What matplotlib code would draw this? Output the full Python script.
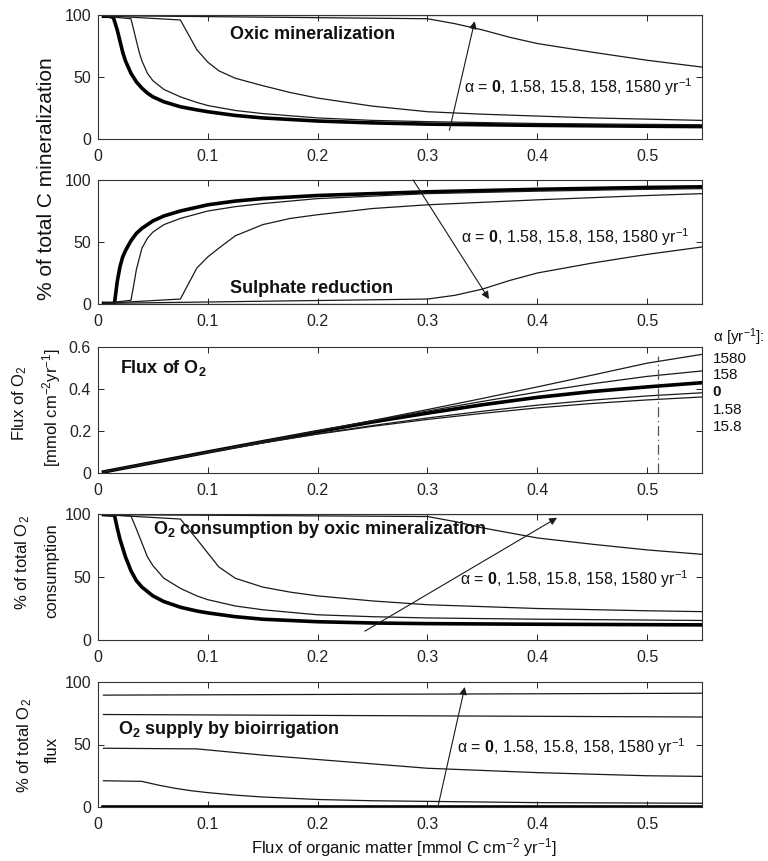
import matplotlib
matplotlib.use("Agg")
import matplotlib.pyplot as plt

plt.rcParams['font.family'] = ['Liberation Sans', 'DejaVu Sans']
plt.rcParams['mathtext.fontset'] = 'custom'
plt.rcParams['mathtext.rm'] = 'Liberation Sans'
plt.rcParams['mathtext.it'] = 'Liberation Sans:italic'
plt.rcParams['mathtext.bf'] = 'Liberation Sans:bold'

# bioirrigation coefficients, curve order used in every list below
alphas = ['0', '1.58', '15.8', '158', '1580']

# Oxic mineralization, % of total C mineralization
oxic_x = [[0.005, 0.01, 0.014, 0.0175, 0.02, 0.0225, 0.025, 0.03, 0.035, 0.04, 0.045, 0.05, 0.06,
           0.075, 0.09, 0.1, 0.125, 0.15, 0.2, 0.25, 0.3, 0.4, 0.5, 0.55],
          [0.005, 0.03, 0.0325, 0.035, 0.0375, 0.04, 0.045, 0.05, 0.06, 0.075, 0.09, 0.1, 0.125,
           0.15, 0.2, 0.25, 0.3, 0.4, 0.5, 0.55],
          [0.005, 0.075, 0.08, 0.09, 0.1, 0.11, 0.125, 0.15, 0.175, 0.2, 0.25, 0.3, 0.35, 0.4,
           0.45, 0.5, 0.55],
          [0.005, 0.3, 0.325, 0.35, 0.375, 0.4, 0.45, 0.5, 0.55],
          [0.005, 0.55]]
oxic_y = [[99, 99, 98, 88, 79, 70, 63, 53, 46, 41, 37, 34, 30, 26, 23.5, 22, 19, 17, 14.5, 13, 12,
           11, 10.3, 10],
          [99, 97, 88, 79, 70, 63, 53, 47, 40, 34, 29.5, 27, 23, 20.5, 17, 15, 14, 12.5, 11.8, 11.5],
          [99.5, 96, 88, 72, 62, 55, 49, 43, 37.5, 33, 26.5, 22, 20, 18.5, 17, 16, 15],
          [99.5, 97, 93, 88, 82, 77, 70, 63.5, 58],
          [99.7, 99.7]]

# Sulphate reduction, % of total C mineralization
sulf_x = [[0.005, 0.015, 0.0175, 0.02, 0.0225, 0.025, 0.03, 0.035, 0.04, 0.05, 0.06, 0.075, 0.1,
           0.125, 0.15, 0.2, 0.25, 0.3, 0.4, 0.5, 0.55],
          [0.005, 0.03, 0.0325, 0.035, 0.04, 0.045, 0.05, 0.06, 0.075, 0.1, 0.125, 0.15, 0.2, 0.25,
           0.3, 0.4, 0.5, 0.55],
          [0.005, 0.075, 0.09, 0.1, 0.11, 0.125, 0.15, 0.175, 0.2, 0.25, 0.3, 0.4, 0.5, 0.55],
          [0.005, 0.3, 0.325, 0.35, 0.375, 0.4, 0.45, 0.5, 0.55],
          [0.005, 0.55]]
sulf_y = [[0.5, 0.5, 18, 30, 38, 43, 51, 57, 61, 67, 71, 75, 80, 83, 85, 87.5, 89, 90.5, 92.5, 94,
           94.5],
          [0.5, 3, 15, 28, 45, 53, 58, 64, 69, 75, 78.5, 81, 85, 87, 89, 91, 92.5, 93],
          [0.5, 4, 29, 38, 45, 55, 64, 69, 72, 77, 80, 84, 87.5, 89],
          [0.5, 4, 7, 12, 19, 25, 33, 40, 46],
          [0.3, 0.3]]

# Flux of O2 [mmol cm-2 yr-1]
o2flux_x = [0.005, 0.05, 0.1, 0.15, 0.2, 0.25, 0.3, 0.35, 0.4, 0.45, 0.5, 0.55]
o2flux_y = [[0.005, 0.05, 0.1, 0.149, 0.197, 0.243, 0.285, 0.325, 0.36, 0.388, 0.41, 0.43],
            [0.005, 0.05, 0.098, 0.144, 0.187, 0.226, 0.262, 0.294, 0.323, 0.347, 0.367, 0.382],
            [0.005, 0.05, 0.098, 0.143, 0.185, 0.222, 0.255, 0.284, 0.31, 0.331, 0.348, 0.362],
            [0.005, 0.05, 0.1, 0.15, 0.2, 0.248, 0.295, 0.341, 0.385, 0.425, 0.46, 0.486],
            [0.005, 0.05, 0.1, 0.15, 0.2, 0.25, 0.302, 0.355, 0.41, 0.466, 0.523, 0.565]]
o2flux_marker = 0.51

# O2 consumption by oxic mineralization, % of total O2 consumption
cons_x = [[0.005, 0.015, 0.0175, 0.02, 0.025, 0.03, 0.035, 0.04, 0.05, 0.06, 0.075, 0.09, 0.1,
           0.125, 0.15, 0.2, 0.25, 0.3, 0.4, 0.55],
          [0.005, 0.03, 0.035, 0.04, 0.045, 0.05, 0.06, 0.075, 0.09, 0.1, 0.125, 0.15, 0.2, 0.25,
           0.3, 0.4, 0.55],
          [0.005, 0.075, 0.09, 0.1, 0.11, 0.125, 0.15, 0.175, 0.2, 0.25, 0.3, 0.4, 0.5, 0.55],
          [0.005, 0.3, 0.325, 0.35, 0.375, 0.4, 0.45, 0.5, 0.55],
          [0.005, 0.55]]
cons_y = [[99.5, 99, 89, 80, 66, 55, 47, 42, 35, 30.5, 26, 23, 21.5, 18.5, 16.5, 14.5, 13.5, 13,
           12.5, 12],
          [99.5, 98.5, 88, 77, 66, 59, 49, 41, 35, 32, 27, 24, 20, 18.5, 17.5, 16.5, 15.5],
          [99.5, 96, 80, 69, 58, 49, 42, 38, 35, 31, 28, 25, 23.2, 22.5],
          [99.5, 98, 94, 89, 85, 81, 76, 71.5, 68],
          [99.7, 99.7]]

# O2 supply by bioirrigation, % of total O2 flux
bio_x = [[0.005, 0.55],
         [0.005, 0.04, 0.055, 0.07, 0.085, 0.1, 0.125, 0.15, 0.2, 0.25, 0.3, 0.4, 0.55],
         [0.005, 0.09, 0.15, 0.2, 0.25, 0.3, 0.4, 0.5, 0.55],
         [0.005, 0.55],
         [0.005, 0.55]]
bio_y = [[0.3, 0.3],
         [21, 20.5, 17.5, 15, 13, 11.5, 9.5, 8, 6, 5, 4.5, 3.5, 3],
         [47, 46.5, 41.5, 38, 34.5, 31, 27.5, 25, 24.5],
         [74, 72],
         [89.5, 91]]

# arrows showing increasing alpha: (tail, head)
arrows = [((0.32, 7), (0.343, 95)),
          ((0.287, 100), (0.356, 4)),
          None,
          ((0.243, 7), (0.418, 97)),
          ((0.31, 2), (0.334, 96))]

W, H = 768, 861
fig = plt.figure(figsize=(W / 100, H / 100), dpi=100)

left, width = 98 / W, 604 / W
boxes = [(15, 139), (180, 304), (347, 473), (514, 640), (682, 807)]
axes = []
for top, bot in boxes:
    ax = fig.add_axes([left, 1 - bot / H, width, (bot - top) / H])
    axes.append(ax)

ink = '#1a1a1a'
alpha_text = r'α = $\mathbf{0}$, 1.58, 15.8, 158, 1580 yr$^{-1}$'

def draw(ax, xs, ys):
    for i in range(5):
        x = xs[i] if isinstance(xs[0], list) else xs
        ax.plot(x, ys[i], color=ink if i else 'black', lw=2.6 if i == 0 else 0.9)

draw(axes[0], oxic_x, oxic_y)
draw(axes[1], sulf_x, sulf_y)
draw(axes[2], o2flux_x, o2flux_y)
draw(axes[3], cons_x, cons_y)
draw(axes[4], bio_x, bio_y)

axes[2].plot([o2flux_marker, o2flux_marker], [0, 0.555], color='#555555', lw=0.9,
             linestyle=(0, (8, 3, 1, 3)))

for ax, arr in zip(axes, arrows):
    if arr is None:
        continue
    ax.annotate('', xy=arr[1], xytext=arr[0],
                arrowprops=dict(arrowstyle='-|>', color=ink, lw=0.8,
                                mutation_scale=11, shrinkA=0, shrinkB=0))

fs = 11.5
for i, ax in enumerate(axes):
    ax.set_xlim(0, 0.55)
    ax.set_xticks([0, 0.1, 0.2, 0.3, 0.4, 0.5])
    ax.set_xticklabels(['0', '0.1', '0.2', '0.3', '0.4', '0.5'])
    if i == 2:
        ax.set_ylim(0, 0.6)
        ax.set_yticks([0, 0.2, 0.4, 0.6])
        ax.set_yticklabels(['0', '0.2', '0.4', '0.6'])
    else:
        ax.set_ylim(0, 100)
        ax.set_yticks([0, 50, 100])
    ax.tick_params(direction='in', top=True, right=True, length=4, width=0.7,
                   labelsize=fs, pad=5, colors='#222222')
    ax.tick_params(axis='x', pad=7)
    for s in ax.spines.values():
        s.set_linewidth(0.8)
        s.set_color('#333333')

tf = dict(fontsize=13, fontweight='bold', va='center', ha='left', color='#111111')
af = dict(fontsize=11.5, va='center', ha='left', color='#111111')
axes[0].text(0.12, 84, 'Oxic mineralization', **tf)
axes[0].text(0.333, 42, alpha_text, **af)
axes[1].text(0.12, 12.5, 'Sulphate reduction', **tf)
axes[1].text(0.331, 54, alpha_text, **af)
axes[2].text(0.02, 0.5, r'Flux of $\mathbf{O_2}$', **tf)
axes[3].text(0.05, 88, r'$\mathbf{O_2}$ consumption by oxic mineralization', **tf)
axes[3].text(0.33, 48, alpha_text, **af)
axes[4].text(0.018, 62, r'$\mathbf{O_2}$ supply by bioirrigation', **tf)
axes[4].text(0.327, 48, alpha_text, **af)

# alpha legend at the right of the O2 flux panel
rf = dict(fontsize=11, va='center', ha='left', color='#111111',
          transform=axes[2].transAxes)
axes[2].text(1.018, 1.079, r'α [yr$^{-1}$]:', **rf)
for lab, yy in zip(['1580', '158', '0', '1.58', '15.8'], [0.905, 0.778, 0.643, 0.5, 0.365]):
    axes[2].text(1.018, yy, lab, fontweight='bold' if lab == '0' else 'normal', **rf)

# y labels
yl = dict(rotation=90, ha='center', va='center', color='#111111')
fig.text(47 / W, 1 - 179 / H, '% of total C mineralization', fontsize=15, **yl)
fig.text(20 / W, 1 - 403 / H, r'Flux of O$_2$', fontsize=12, **yl)
fig.text(52 / W, 1 - 407 / H, r'[mmol cm$^{-2}$yr$^{-1}$]', fontsize=12, **yl)
fig.text(23 / W, 1 - 563 / H, r'% of total O$_2$', fontsize=12, **yl)
fig.text(52 / W, 1 - 571 / H, 'consumption', fontsize=12, **yl)
fig.text(25 / W, 1 - 746 / H, r'% of total O$_2$', fontsize=12, **yl)
fig.text(52 / W, 1 - 750 / H, 'flux', fontsize=12, **yl)

fig.text(404 / W, 1 - 848 / H, r'Flux of organic matter [mmol C cm$^{-2}$ yr$^{-1}$]',
         fontsize=12, ha='center', va='center', color='#111111')

fig.savefig('out.png', dpi=100)
